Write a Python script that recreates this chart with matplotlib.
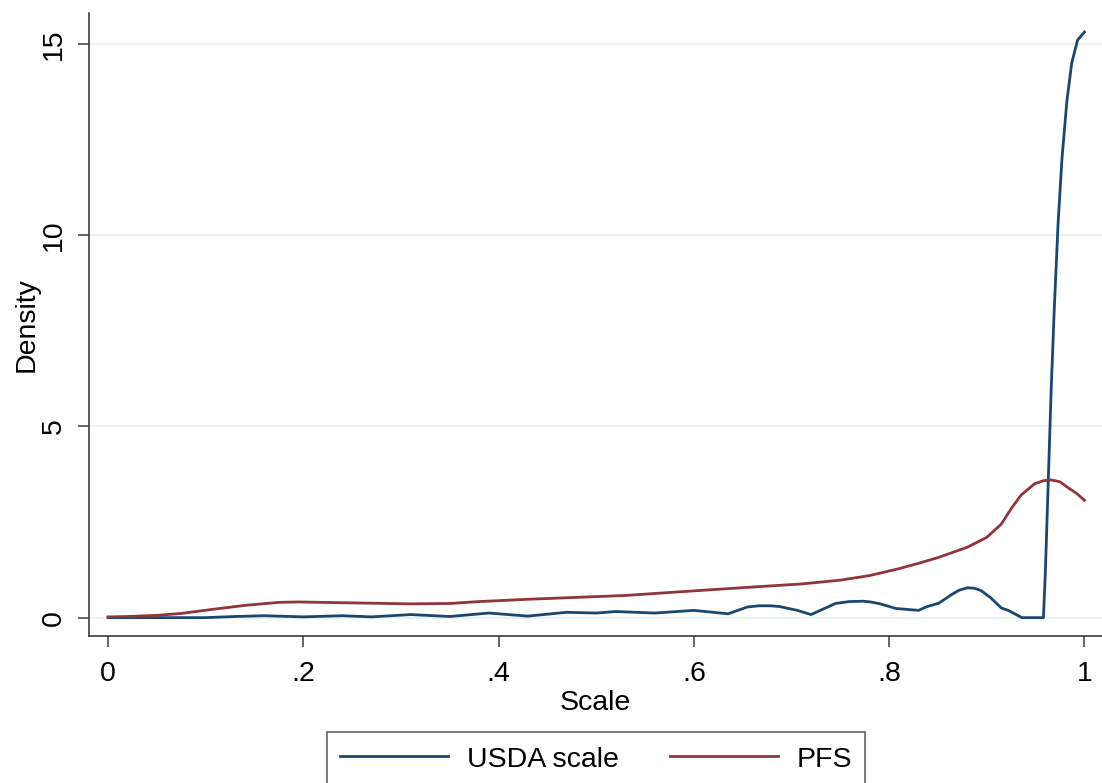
import numpy as np
import matplotlib
matplotlib.use('Agg')
import matplotlib.pyplot as plt

plt.rcParams['font.family'] = ['Liberation Sans', 'DejaVu Sans']

# kernel density estimates, read off at selected scale values
usda_x = [0.00, 0.05, 0.10, 0.13, 0.16, 0.20, 0.24, 0.27, 0.31, 0.35, 0.39, 0.43,
          0.47, 0.50, 0.52, 0.56, 0.60, 0.635, 0.655, 0.667, 0.678, 0.688, 0.706,
          0.720, 0.745, 0.759, 0.773, 0.781, 0.791, 0.807, 0.830, 0.839, 0.851,
          0.865, 0.872, 0.880, 0.887, 0.894, 0.904, 0.915, 0.922, 0.936, 0.958,
          0.960, 0.963, 0.966, 0.969, 0.973, 0.977, 0.982, 0.987, 0.993, 1.000]
usda_y = [0.00, 0.00, 0.00, 0.03, 0.05, 0.02, 0.05, 0.02, 0.08, 0.03, 0.12, 0.04,
          0.14, 0.12, 0.16, 0.12, 0.19, 0.10, 0.28, 0.31, 0.31, 0.29, 0.19,
          0.08, 0.37, 0.42, 0.43, 0.41, 0.36, 0.24, 0.19, 0.29, 0.38,
          0.62, 0.72, 0.78, 0.77, 0.71, 0.52, 0.25, 0.19, 0.00, 0.00,
          1.2, 3.6, 6.0, 8.0, 10.3, 12.0, 13.5, 14.5, 15.1, 15.31]

pfs_x = [0.00, 0.02, 0.05, 0.075, 0.105, 0.14, 0.175, 0.195, 0.24, 0.31, 0.35,
         0.38, 0.43, 0.48, 0.53, 0.60, 0.66, 0.71, 0.75, 0.78, 0.81, 0.83, 0.85,
         0.87, 0.88, 0.90, 0.915, 0.925, 0.935, 0.949, 0.958, 0.966, 0.975,
         0.983, 0.992, 1.00]
pfs_y = [0.02, 0.03, 0.06, 0.11, 0.21, 0.32, 0.40, 0.41, 0.39, 0.36, 0.37,
         0.42, 0.48, 0.53, 0.58, 0.70, 0.80, 0.88, 0.98, 1.10, 1.28, 1.42, 1.57,
         1.75, 1.84, 2.10, 2.45, 2.85, 3.20, 3.50, 3.58, 3.60, 3.55,
         3.40, 3.25, 3.07]

x_ticks = [0, 0.2, 0.4, 0.6, 0.8, 1]
x_labels = ['0', '.2', '.4', '.6', '.8', '1']
y_ticks = [0, 5, 10, 15]

navy = '#1a476f'
maroon = '#90353b'
axis_col = '#3c3c3c'
fs = 20.5

fig = plt.figure(figsize=(11.02, 7.83), dpi=100)
ax = fig.add_axes([89.3 / 1102, 1 - 636 / 783, (1102 - 89.3) / 1102, (636 - 13.3) / 783])

for yt in y_ticks:
    ax.axhline(yt, color='#eaf2f3', lw=1.4, zorder=0)

ax.plot(usda_x, usda_y, color=navy, lw=2.0, solid_joinstyle='round', label='USDA scale')
ax.plot(pfs_x, pfs_y, color=maroon, lw=2.0, solid_joinstyle='round', label='PFS')

ax.set_xlim(-0.0192, 1.018)
ax.set_ylim(-0.48, 15.80)
ax.set_xticks(x_ticks)
ax.set_xticklabels(x_labels)
ax.set_yticks(y_ticks)
ax.set_yticklabels([str(t) for t in y_ticks], rotation=90, va='center')

for side in ['top', 'right']:
    ax.spines[side].set_visible(False)
for side in ['left', 'bottom']:
    ax.spines[side].set_color(axis_col)
    ax.spines[side].set_linewidth(1.2)
ax.tick_params(axis='both', length=8, width=1.1, color=axis_col, labelsize=fs)
ax.tick_params(axis='x', pad=10)
ax.tick_params(axis='y', pad=8)

ax.set_xlabel('Scale', fontsize=fs, labelpad=2)
ax.set_ylabel('Density', fontsize=fs, labelpad=1)

leg = fig.legend(loc='upper center', bbox_to_anchor=(596 / 1102, 1 - 731.5 / 783),
                 ncol=2, fontsize=fs, frameon=True, fancybox=False,
                 handlelength=3.8, handleheight=1.0, handletextpad=0.65,
                 columnspacing=1.8, borderpad=0.46, borderaxespad=0)
leg.get_frame().set_edgecolor(axis_col)
leg.get_frame().set_linewidth(1.2)

fig.savefig('out.png', dpi=100)
